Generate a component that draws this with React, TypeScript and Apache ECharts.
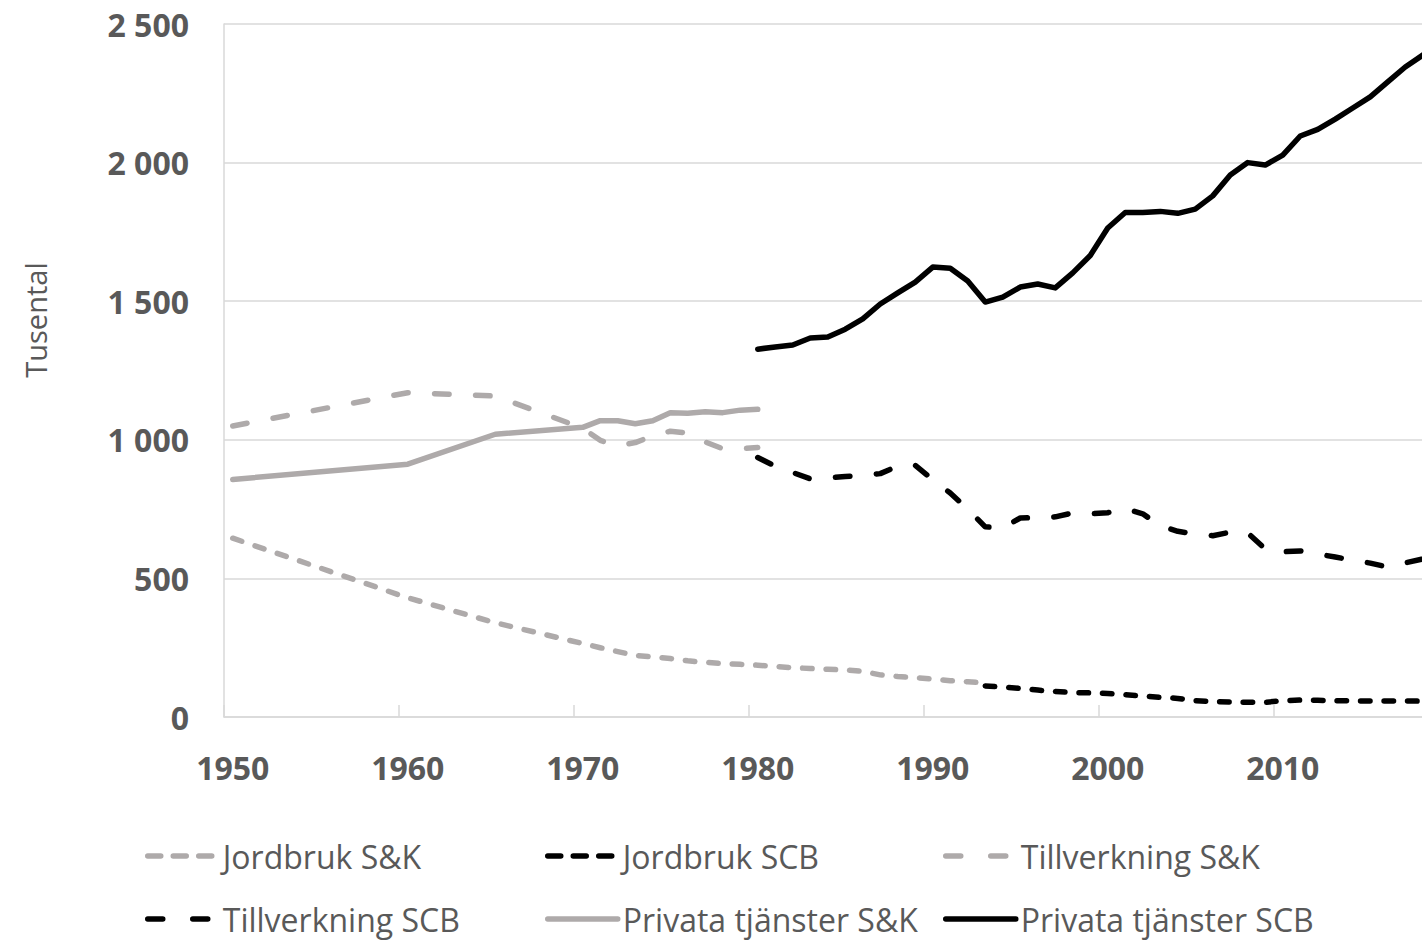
import React, { useEffect, useRef } from "react";
import * as echarts from "echarts";

// Categories: years 1950..2018
const firstYear = 1950;
const lastYear = 2018;
const years: string[] = [];
for (let y = firstYear; y <= lastYear; y++) years.push(String(y));

// Y axis ticks
const yMin = 0;
const yMax = 2500;
const yStep = 500;

// Jordbruk S&K
const jordbrukSKYears = [1950, 1960, 1965, 1970, 1971, 1972, 1973, 1974, 1975, 1976, 1977, 1978, 1979, 1980, 1981, 1982, 1983, 1984, 1985, 1986, 1987, 1988, 1989, 1990, 1991, 1992, 1993];
const jordbrukSKValues = [645, 430, 340, 265, 250, 236, 222, 217, 211, 203, 197, 193, 190, 187, 182, 178, 175, 172, 170, 165, 152, 146, 142, 137, 131, 127, 123];

// Jordbruk SCB
const jordbrukSCBYears = [1993, 1994, 1995, 1996, 1997, 1998, 1999, 2000, 2001, 2002, 2003, 2004, 2005, 2006, 2007, 2008, 2009, 2010, 2011, 2012, 2013, 2014, 2015, 2016, 2017, 2018];
const jordbrukSCBValues = [112, 108, 103, 97, 92, 88, 87, 85, 80, 76, 71, 67, 59, 56, 54, 53, 53, 59, 61, 60, 59, 58, 58, 58, 58, 57];

// Tillverkning S&K
const tillverkningSKYears = [1950, 1960, 1965, 1970, 1971, 1972, 1973, 1974, 1975, 1976, 1977, 1978, 1979, 1980];
const tillverkningSKValues = [1050, 1170, 1158, 1042, 998, 978, 990, 1014, 1031, 1024, 992, 968, 968, 972];

// Tillverkning SCB
const tillverkningSCBYears = [1980, 1981, 1982, 1983, 1984, 1985, 1986, 1987, 1988, 1989, 1990, 1991, 1992, 1993, 1994, 1995, 1996, 1997, 1998, 1999, 2000, 2001, 2002, 2003, 2004, 2005, 2006, 2007, 2008, 2009, 2010, 2011, 2012, 2013, 2014, 2015, 2016, 2017, 2018];
const tillverkningSCBValues = [936, 905, 882, 859, 863, 868, 871, 878, 905, 908, 856, 808, 750, 686, 683, 718, 719, 722, 736, 733, 737, 752, 733, 690, 670, 660, 654, 667, 664, 606, 596, 599, 588, 577, 566, 555, 541, 556, 570];

// Privata tjänster S&K
const privataSKYears = [1950, 1960, 1965, 1970, 1971, 1972, 1973, 1974, 1975, 1976, 1977, 1978, 1979, 1980];
const privataSKValues = [857, 912, 1020, 1045, 1069, 1069, 1058, 1069, 1098, 1096, 1101, 1098, 1107, 1110];

// Privata tjänster SCB
const privataSCBYears = [1980, 1981, 1982, 1983, 1984, 1985, 1986, 1987, 1988, 1989, 1990, 1991, 1992, 1993, 1994, 1995, 1996, 1997, 1998, 1999, 2000, 2001, 2002, 2003, 2004, 2005, 2006, 2007, 2008, 2009, 2010, 2011, 2012, 2013, 2014, 2015, 2016, 2017, 2018];
const privataSCBValues = [1327, 1335, 1342, 1367, 1371, 1399, 1436, 1490, 1530, 1569, 1623, 1619, 1573, 1497, 1515, 1551, 1562, 1548, 1602, 1665, 1764, 1820, 1820, 1824, 1817, 1832, 1880, 1955, 2000, 1991, 2027, 2096, 2120, 2157, 2197, 2237, 2291, 2345, 2388];

const GRAY = "#AEAAAA";
const BLACK = "#000000";
const TEXT = "#595959";
const FONT = "'Open Sans', 'Noto Sans', sans-serif";
const LW = 5.5;
const SHORT_DASH = [9.5, 14];
const LONG_DASH = [14.5, 26.5];

const pairs = (ys: number[], vs: number[]) => ys.map((y, i) => [String(y), vs[i]]);

const fmt = (v: number) => {
  if (v >= 1000) {
    const t = Math.floor(v / 1000);
    const r = String(v % 1000).padStart(3, "0");
    return `${t} ${r}`;
  }
  return String(v);
};

export default function App() {
  const ref = useRef<HTMLDivElement>(null);

  useEffect(() => {
    if (!ref.current) return;
    const chart = echarts.init(ref.current, undefined, { renderer: "svg" });

    const mkSeries = (name: string, data: any[], color: string, dash: any) => ({
      name,
      type: "line",
      data,
      symbol: "none",
      showSymbol: false,
      smooth: false,
      lineStyle: { color, width: LW, type: dash, cap: "round", join: "round" },
      itemStyle: { color },
      emphasis: { disabled: true },
      z: 3,
    });

    const legendText = {
      fontFamily: FONT,
      fontSize: 32,
      color: TEXT,
      lineHeight: 40,
    };
    const mkLegend = (name: string, left: number, top: number, dash: any) => ({
      data: [name],
      left,
      top,
      padding: 0,
      orient: "horizontal",
      itemWidth: 70,
      itemHeight: 14,
      selectedMode: false,
      textStyle: legendText,
      itemStyle: { opacity: 0, borderWidth: 0 },
      lineStyle: { width: LW, type: dash, cap: "round", opacity: 1 },
    });

    const option: any = {
      animation: false,
      backgroundColor: "#ffffff",
      grid: { left: 224, right: 0.5, top: 24, bottom: 223, containLabel: false },
      xAxis: {
        type: "category",
        data: years,
        boundaryGap: true,
        axisLine: { show: true, lineStyle: { color: "#D9D9D9", width: 1.5 } },
        axisTick: { show: true, inside: true, length: 12, interval: 9, lineStyle: { color: "#D9D9D9", width: 1.5 } },
        axisLabel: {
          interval: 9,
          margin: 34,
          fontFamily: FONT,
          fontSize: 32,
          fontWeight: "bold",
          color: TEXT,
        },
        splitLine: { show: false },
      },
      yAxis: {
        type: "value",
        min: yMin,
        max: yMax,
        interval: yStep,
        axisLine: { show: true, lineStyle: { color: "#D9D9D9", width: 1.5 } },
        axisTick: { show: false },
        axisLabel: {
          margin: 35,
          fontFamily: FONT,
          fontSize: 32,
          fontWeight: "bold",
          color: TEXT,
          formatter: (v: number) => fmt(v),
        },
        splitLine: { show: true, lineStyle: { color: "#D9D9D9", width: 1.5 } },
      },
      legend: [
        mkLegend("Jordbruk S&K", 145, 836, [13, 12.5]),
        mkLegend("Jordbruk SCB", 545, 836, [13, 12.5]),
        mkLegend("Tillverkning S&K", 943, 836, [15, 30]),
        mkLegend("Tillverkning SCB", 145, 899, [15, 30]),
        mkLegend("Privata tjänster S&K", 545, 899, "solid"),
        mkLegend("Privata tjänster SCB", 943, 899, "solid"),
      ],
      graphic: [
        {
          type: "text",
          x: 35,
          y: 320,
          rotation: Math.PI / 2,
          style: {
            text: "Tusental",
            fontFamily: FONT,
            fontSize: 29,
            fill: TEXT,
            align: "center",
            verticalAlign: "middle",
          },
        },
      ],
      series: [
        mkSeries("Jordbruk S&K", pairs(jordbrukSKYears, jordbrukSKValues), GRAY, SHORT_DASH),
        mkSeries("Jordbruk SCB", pairs(jordbrukSCBYears, jordbrukSCBValues), BLACK, SHORT_DASH),
        mkSeries("Tillverkning S&K", pairs(tillverkningSKYears, tillverkningSKValues), GRAY, LONG_DASH),
        mkSeries("Tillverkning SCB", pairs(tillverkningSCBYears, tillverkningSCBValues), BLACK, LONG_DASH),
        mkSeries("Privata tjänster S&K", pairs(privataSKYears, privataSKValues), GRAY, "solid"),
        mkSeries("Privata tjänster SCB", pairs(privataSCBYears, privataSCBValues), BLACK, "solid"),
      ],
    };

    chart.setOption(option);
    return () => chart.dispose();
  }, []);

  return (
    <div style={{ position: "fixed", left: 0, top: 0, width: 1422, height: 940, overflow: "hidden", background: "#fff" }}>
      <div ref={ref} style={{ width: 1432, height: 940 }} />
    </div>
  );
}
